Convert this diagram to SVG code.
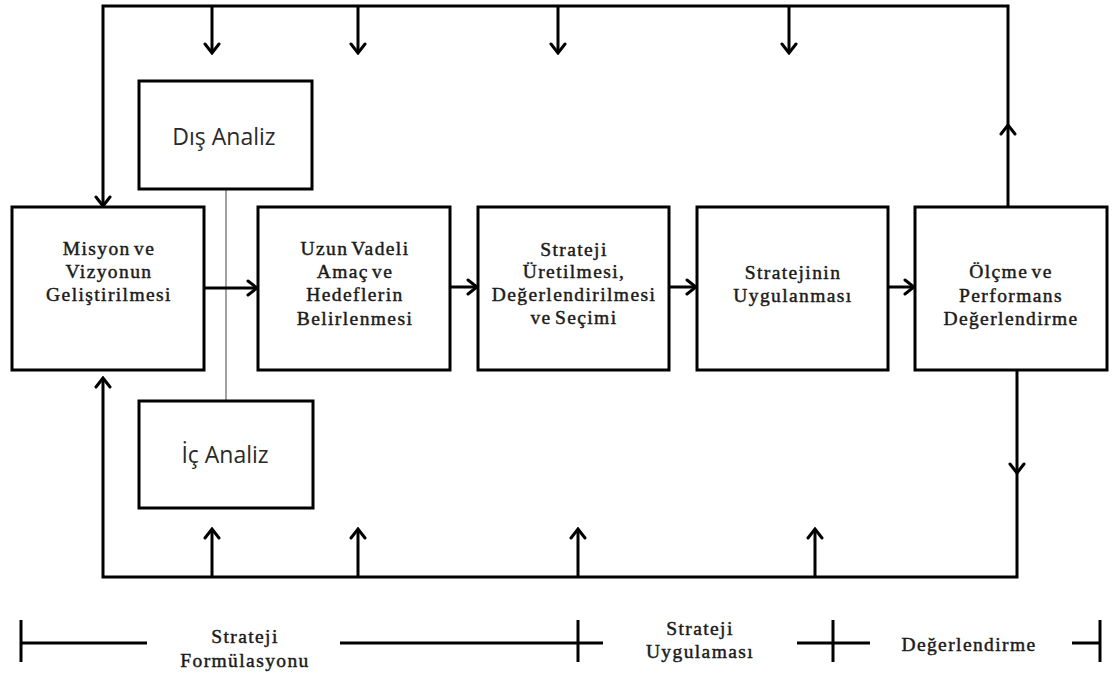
<svg xmlns="http://www.w3.org/2000/svg" width="1117" height="675" viewBox="0 0 1117 675">
  <style>
    .box { fill: #fff; stroke: #000; stroke-width: 3; }
    .wire { fill: none; stroke: #000; stroke-width: 3; stroke-linejoin: miter; }
    .thin { fill: none; stroke: #8a8a8a; stroke-width: 1.6; }
    .lbl { font-family: "Liberation Serif", "Times New Roman", serif; font-size: 19.5px; letter-spacing: 1.4px; word-spacing: -3px; fill: #1a1a1a; stroke: #1a1a1a; stroke-width: 0.45px; text-anchor: middle; }
    .sans { font-family: "Open Sans", "Liberation Sans", sans-serif; font-size: 23px; fill: #2a2a2a; text-anchor: middle; }
    .bar { fill: none; stroke: #000; stroke-width: 3; }
  </style>
  <defs>
    <marker id="arr" viewBox="-12 -9 14 18" refX="0" refY="0" markerWidth="14" markerHeight="18" markerUnits="userSpaceOnUse" orient="auto">
      <path d="M-9,-7 L0,0 L-9,7" fill="none" stroke="#000" stroke-width="3" stroke-linecap="round" stroke-linejoin="miter"/>
    </marker>
  </defs>

  <rect width="1117" height="675" fill="#fff"/>

  <!-- thin link between the two analysis boxes -->
  <g id="analysis-link">
    <line class="thin" x1="226" y1="189" x2="226" y2="401"/>
  </g>

  <!-- connectors -->
  <g id="connectors">
    <!-- feedback loop: top rail -->
    <path class="wire" d="M1008,207 L1008,125" marker-end="url(#arr)"/>
    <path class="wire" d="M1008,125 L1008,6 L103,6 L103,206" marker-end="url(#arr)"/>
    <path class="wire" d="M212,6 L212,53" marker-end="url(#arr)"/>
    <path class="wire" d="M358,6 L358,53" marker-end="url(#arr)"/>
    <path class="wire" d="M558,6 L558,53" marker-end="url(#arr)"/>
    <path class="wire" d="M789,6 L789,53" marker-end="url(#arr)"/>

    <!-- feedback loop: bottom rail -->
    <path class="wire" d="M1017,370 L1017,473" marker-end="url(#arr)"/>
    <path class="wire" d="M1017,473 L1017,577 L103,577 L103,378" marker-end="url(#arr)"/>
    <path class="wire" d="M212,577 L212,529" marker-end="url(#arr)"/>
    <path class="wire" d="M358,577 L358,529" marker-end="url(#arr)"/>
    <path class="wire" d="M578,577 L578,529" marker-end="url(#arr)"/>
    <path class="wire" d="M815,577 L815,529" marker-end="url(#arr)"/>

    <!-- main process chain -->
    <path class="wire" d="M204,288 L257,288" marker-end="url(#arr)"/>
    <path class="wire" d="M450,287 L477,287" marker-end="url(#arr)"/>
    <path class="wire" d="M669,287 L696,287" marker-end="url(#arr)"/>
    <path class="wire" d="M888,287 L914,287" marker-end="url(#arr)"/>
  </g>

  <g id="dis-analiz">
    <rect class="box" x="139" y="81" width="173" height="108"/>
    <text class="sans" x="224" y="145">Dış Analiz</text>
  </g>

  <g id="ic-analiz">
    <rect class="box" x="139" y="401" width="174" height="107"/>
    <text class="sans" x="225" y="463">İç Analiz</text>
  </g>

  <g id="misyon">
    <rect class="box" x="12" y="207" width="192" height="163"/>
    <text class="lbl" x="109" y="255">Misyon ve</text>
    <text class="lbl" x="109" y="278">Vizyonun</text>
    <text class="lbl" x="109" y="301">Geliştirilmesi</text>
  </g>

  <g id="amac">
    <rect class="box" x="258" y="207" width="192" height="163"/>
    <text class="lbl" x="355" y="255">Uzun Vadeli</text>
    <text class="lbl" x="355" y="278">Amaç ve</text>
    <text class="lbl" x="355" y="301">Hedeflerin</text>
    <text class="lbl" x="355" y="325">Belirlenmesi</text>
  </g>

  <g id="strateji-uretim">
    <rect class="box" x="478" y="207" width="191" height="163"/>
    <text class="lbl" x="574" y="256">Strateji</text>
    <text class="lbl" x="574" y="278">Üretilmesi,</text>
    <text class="lbl" x="574" y="301">Değerlendirilmesi</text>
    <text class="lbl" x="574" y="324">ve Seçimi</text>
  </g>

  <g id="uygulama">
    <rect class="box" x="697" y="207" width="191" height="163"/>
    <text class="lbl" x="793" y="279">Stratejinin</text>
    <text class="lbl" x="793" y="302">Uygulanması</text>
  </g>

  <g id="olcme">
    <rect class="box" x="915" y="207" width="192" height="163"/>
    <text class="lbl" x="1011" y="278">Ölçme ve</text>
    <text class="lbl" x="1011" y="302">Performans</text>
    <text class="lbl" x="1011" y="325">Değerlendirme</text>
  </g>

  <!-- phase scale along the bottom -->
  <g id="phases">
    <line class="bar" x1="21" y1="620" x2="21" y2="662"/>
    <line class="bar" x1="21" y1="643" x2="147" y2="643"/>
    <line class="bar" x1="340" y1="643" x2="603" y2="643"/>
    <line class="bar" x1="578" y1="620" x2="578" y2="662"/>
    <line class="bar" x1="797" y1="643" x2="870" y2="643"/>
    <line class="bar" x1="833" y1="620" x2="833" y2="662"/>
    <line class="bar" x1="1072" y1="643" x2="1100" y2="643"/>
    <line class="bar" x1="1100" y1="620" x2="1100" y2="662"/>
    <text class="lbl" x="245" y="643">Strateji</text>
    <text class="lbl" x="245" y="667">Formülasyonu</text>
    <text class="lbl" x="700" y="635">Strateji</text>
    <text class="lbl" x="700" y="658">Uygulaması</text>
    <text class="lbl" x="969" y="651">Değerlendirme</text>
  </g>
</svg>
